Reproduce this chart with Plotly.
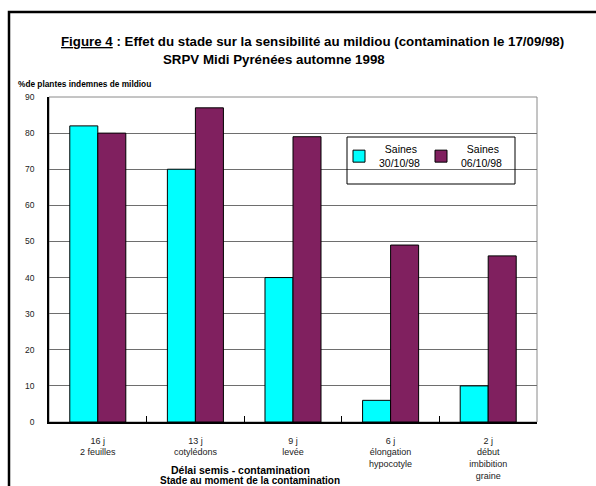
import plotly.graph_objects as go

categories = ["16 j<br>2 feuilles", "13 j<br>cotylédons", "9 j<br>levée",
              "6 j<br>élongation<br>hypocotyle", "2 j<br>début<br>imbibition<br>graine"]
saines_3010 = [82, 70, 40, 6, 10]
saines_0610 = [80, 87, 79, 49, 46]
series_names = ["&nbsp;&nbsp;Saines<br>30/10/98", "&nbsp;&nbsp;Saines<br>06/10/98"]
y_ticks = [0, 10, 20, 30, 40, 50, 60, 70, 80, 90]

W, H = 596, 486
L, R, T, B = 49, 537, 97, 422
pw, ph = R - L, B - T

def px(x):
    return (x - L) / pw

def py(y):
    return (B - y) / ph

FONT = "Arial, Liberation Sans, sans-serif"

fig = go.Figure()
fig.add_trace(go.Bar(x=categories, y=saines_3010, name=series_names[0],
                     marker=dict(color="#00FFFF", line=dict(color="#000000", width=1))))
fig.add_trace(go.Bar(x=categories, y=saines_0610, name=series_names[1],
                     marker=dict(color="#80205F", line=dict(color="#000000", width=1))))

fig.update_layout(
    width=W, height=H,
    margin=dict(l=L, r=W - R, t=T, b=H - B, pad=0, autoexpand=False),
    paper_bgcolor="white", plot_bgcolor="white",
    barmode="group", bargap=0.426, bargroupgap=0,
    font=dict(family=FONT, color="#000000", size=9),
    showlegend=True,
    legend=dict(orientation="h", x=px(339), y=py(136), xanchor="left", yanchor="top",
                bgcolor="rgba(0,0,0,0)", borderwidth=0,
                font=dict(family=FONT, size=10.5, color="#000"),
                entrywidth=37, entrywidthmode="pixels", traceorder="normal",
                itemwidth=30),
    xaxis=dict(showgrid=False, showline=True, linecolor="#000000", linewidth=1.5,
               ticks="inside", ticklen=6, tickcolor="#000000", tickson="boundaries",
               tickfont=dict(family=FONT, size=9, color="#222"),
               ticklabelstandoff=9, automargin=False),
    yaxis=dict(range=[0, 90], tickvals=y_ticks, showgrid=True, gridcolor="#6e6e6e", gridwidth=1,
               showline=True, linecolor="#000000", linewidth=1.5, ticks="",
               tickfont=dict(family=FONT, size=8.5, color="#222"),
               ticklabelstandoff=11, zeroline=False, automargin=False),
    shapes=[
        dict(type="rect", xref="paper", yref="paper", x0=0, y0=0, x1=1, y1=1,
             line=dict(color="#8a8a8a", width=1), layer="below"),
        dict(type="rect", xref="paper", yref="paper", x0=px(9), y0=py(520), x1=px(640), y1=py(12),
             line=dict(color="#000000", width=2.5)),
        dict(type="rect", xref="paper", yref="paper", x0=px(347), y0=py(184), x1=px(515), y1=py(137),
             line=dict(color="#000000", width=1), fillcolor="rgba(0,0,0,0)"),
    ],
    annotations=[
        dict(text="<b><u>Figure 4</u> : Effet du stade sur la sensibilité au mildiou (contamination le 17/09/98)</b>",
             xref="paper", yref="paper", x=px(312), y=py(42), xanchor="center", yanchor="middle",
             showarrow=False, font=dict(family=FONT, size=13.3, color="#000")),
        dict(text="<b>SRPV Midi Pyrénées automne 1998</b>",
             xref="paper", yref="paper", x=px(274), y=py(60), xanchor="center", yanchor="middle",
             showarrow=False, font=dict(family=FONT, size=13.3, color="#000")),
        dict(text="<b>%de plantes indemnes de mildiou</b>",
             xref="paper", yref="paper", x=px(16), y=py(84), xanchor="left", yanchor="middle",
             showarrow=False, font=dict(family=FONT, size=8.3, color="#000")),
        dict(text="<b>Délai semis - contamination</b>",
             xref="paper", yref="paper", x=px(240), y=py(470), xanchor="center", yanchor="middle",
             showarrow=False, font=dict(family=FONT, size=10.5, color="#000")),
        dict(text="<b>Stade au moment de la contamination</b>",
             xref="paper", yref="paper", x=px(250), y=py(480), xanchor="center", yanchor="middle",
             showarrow=False, font=dict(family=FONT, size=10, color="#000")),
    ],
)

fig.write_html("out.html")
